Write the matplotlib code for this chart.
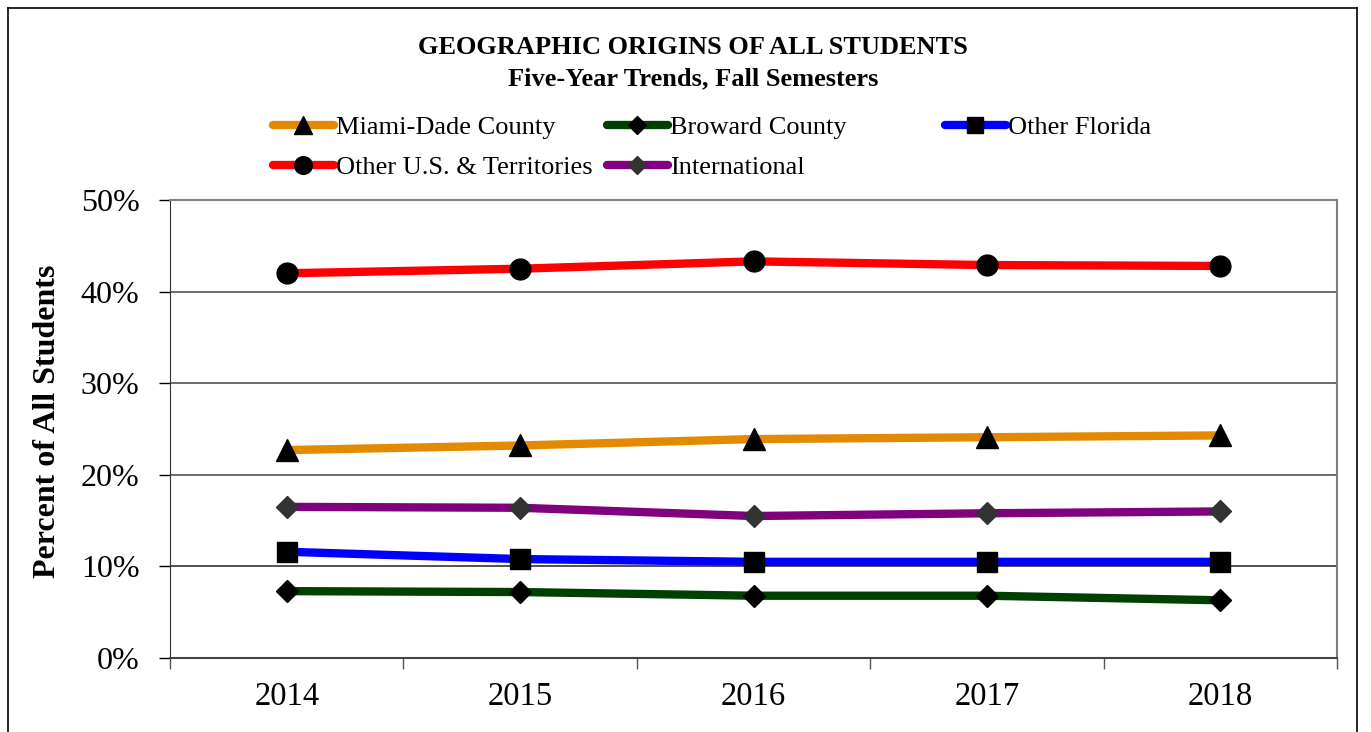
import matplotlib
matplotlib.use("Agg")
import matplotlib.pyplot as plt
from matplotlib.lines import Line2D

years = ["2014", "2015", "2016", "2017", "2018"]
miami_dade = [22.7, 23.2, 23.9, 24.1, 24.3]
broward = [7.3, 7.2, 6.8, 6.8, 6.3]
other_florida = [11.6, 10.8, 10.5, 10.5, 10.5]
other_us = [42.0, 42.5, 43.3, 42.9, 42.8]
international = [16.5, 16.4, 15.5, 15.8, 16.0]

series = [
    ("Miami-Dade County", miami_dade, "#E38A00", "^", "black", 16),
    ("Broward County", broward, "#004000", "D", "black", 11),
    ("Other Florida", other_florida, "#0000FF", "s", "black", 14),
    ("Other U.S. & Territories", other_us, "#FF0000", "o", "black", 15),
    ("International", international, "#800080", "D", "#333333", 11),
]

plt.rcParams["font.family"] = ["Liberation Serif", "DejaVu Serif"]

fig = plt.figure(figsize=(13.71, 7.32), dpi=100)
W, H = 1371, 732
ax = fig.add_axes([170 / W, 1 - 658 / H, (1337 - 170) / W, (658 - 200) / H])

x = list(range(len(years)))
handles = {}
for name, vals, col, mk, mcol, ms in series:
    (h,) = ax.plot(x, vals, color=col, lw=6, marker=mk, markersize=ms,
                   markerfacecolor=mcol, markeredgecolor=mcol, solid_capstyle="round",
                   zorder=3)
    handles[name] = h

ax.set_xlim(-0.5, len(years) - 0.5)
ax.set_ylim(0, 50)
ax.set_yticks([0, 10, 20, 30, 40, 50])
ax.set_yticklabels([f"{v}%" for v in [0, 10, 20, 30, 40, 50]], fontsize=23)
ax.set_xticks(x)
ax.set_xticklabels(years, fontsize=23.5)
ax.set_xticks([i - 0.5 for i in range(len(years) + 1)], minor=True)
ax.tick_params(axis="x", which="major", length=0, pad=17)
ax.tick_params(axis="x", which="minor", length=8, width=1, color="#555555", direction="out")
ax.tick_params(axis="y", length=8, width=1, direction="out", pad=14)
for yv in [10, 20, 30, 40]:
    ax.axhline(yv, color="#222222" if yv == 10 else "#444444", lw=1.1, zorder=1)
for side in ["top", "right"]:
    ax.spines[side].set_color("#808080")
    ax.spines[side].set_linewidth(1.5)
ax.spines["left"].set_color("#333333")
ax.spines["bottom"].set_color("#444444")
ax.spines["bottom"].set_linewidth(1.5)
ax.set_ylabel("Percent of All Students", fontsize=23, fontweight="bold")
ax.yaxis.set_label_coords(-0.0925, 0.517)

fig.text(693 / W, 1 - 48 / H, "GEOGRAPHIC ORIGINS OF ALL STUDENTS", ha="center", va="center",
         fontsize=19, fontweight="bold")
fig.text(693 / W, 1 - 79 / H, "Five-Year Trends, Fall Semesters", ha="center", va="center",
         fontsize=19, fontweight="bold")

# legend columns placed separately, as in the original
columns = [
    (273, ["Miami-Dade County", "Other U.S. & Territories"]),
    (607, ["Broward County", "International"]),
    (945, ["Other Florida"]),
]
for xpx, names in columns:
    hs = []
    for n in names:
        h = handles[n]
        hs.append(Line2D([], [], color=h.get_color(), lw=6, marker=h.get_marker(),
                         markersize=h.get_markersize() * 0.85,
                         markerfacecolor=h.get_markerfacecolor(),
                         markeredgecolor=h.get_markeredgecolor(),
                         solid_capstyle="round"))
    fig.legend(hs, names, loc="upper left", bbox_to_anchor=(xpx / W, 1 - 116 / H),
               frameon=False, fontsize=19, handlelength=2.3, handletextpad=0.1,
               labelspacing=0.62, borderaxespad=0, borderpad=0)

# outer chart frame
fig.add_artist(Line2D([8 / W, 8 / W], [0, 1 - 8 / H], color="black", lw=1.2))
fig.add_artist(Line2D([8 / W, 1357 / W], [1 - 8 / H, 1 - 8 / H], color="black", lw=1.2))
fig.add_artist(Line2D([1357 / W, 1357 / W], [0, 1 - 8 / H], color="black", lw=1.2))

fig.savefig("out.png", dpi=100)
